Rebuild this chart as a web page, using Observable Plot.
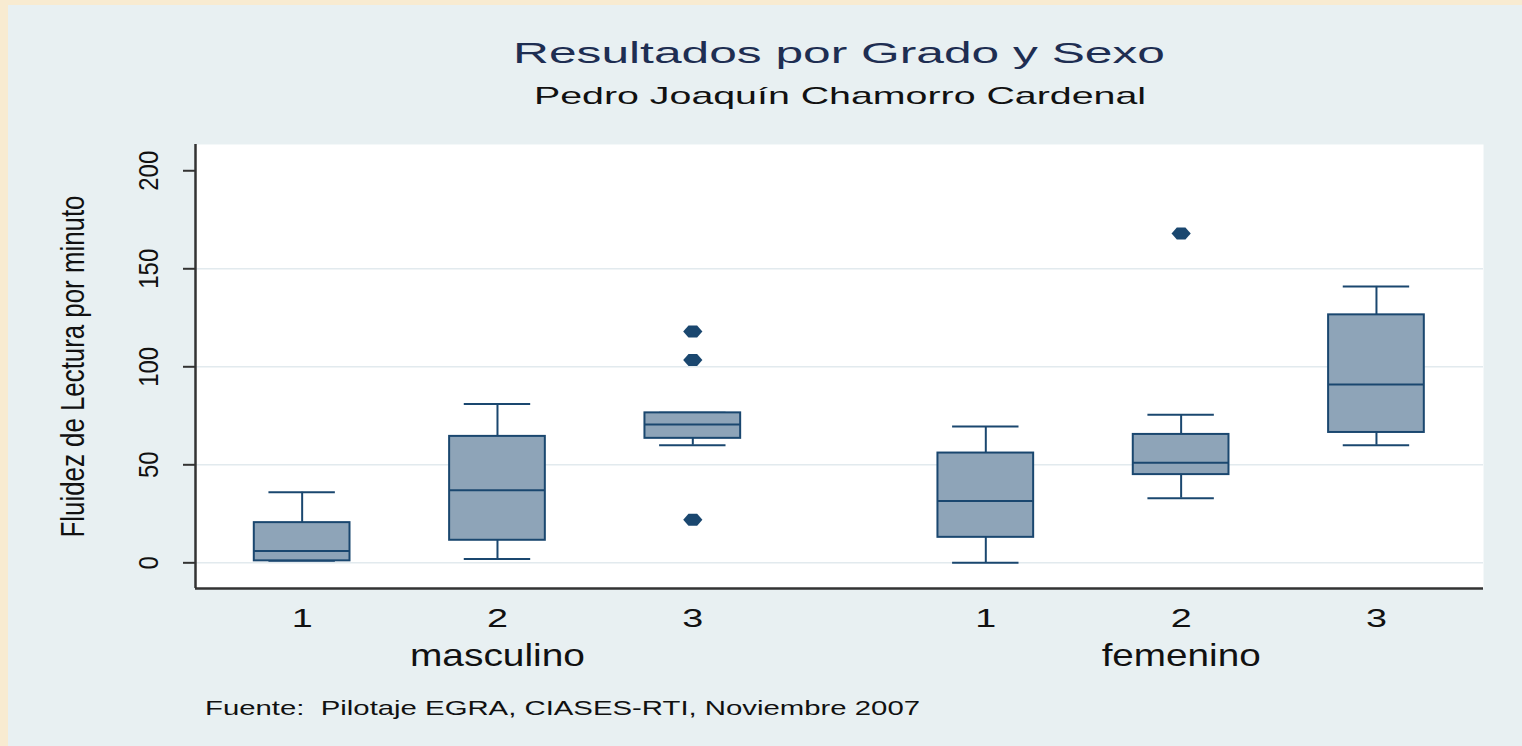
<!DOCTYPE html>
<html>
<head>
<meta charset="utf-8">
<script src="https://cdn.jsdelivr.net/npm/d3@7"></script>
<script src="https://cdn.jsdelivr.net/npm/@observablehq/plot@0.6"></script>
<style>
  html, body { margin: 0; padding: 0; }
  body { width: 1522px; height: 746px; background: #f8ebd1; position: relative; overflow: hidden;
         font-family: "Liberation Sans", Arial, sans-serif; }
  #panel { position: absolute; left: 8px; top: 5px; right: 0; bottom: 0; background: #e8f0f2; }
  .txt { position: absolute; white-space: nowrap; line-height: 1; }
  #title { left: 839px; top: 37.6px; font-size: 30px; color: #1e2e52; }
  #subtitle { left: 840px; top: 83.7px; font-size: 24px; color: #111; }
  #caption { left: 205px; top: 697.2px; font-size: 21px; color: #111; transform-origin: 0 50%; }
  #chart { position: absolute; left: 0; top: 130px; }
</style>
</head>
<body>
<div id="panel"></div>
<div id="title" class="txt">Resultados por Grado y Sexo</div>
<div id="subtitle" class="txt">Pedro Joaquín Chamorro Cardenal</div>
<div id="chart"></div>
<div id="caption" class="txt">Fuente:&nbsp; Pilotaje EGRA, CIASES-RTI, Noviembre 2007</div>
<script>
// ---- data ----
const sexo   = ["masculino", "masculino", "masculino", "femenino", "femenino", "femenino"];
const grado  = ["1", "2", "3", "1", "2", "3"];
const bigoteInf = [1, 2, 60, 0, 33, 60];
const q1        = [1, 11.5, 63.5, 13, 45, 66.5];
const mediana   = [6, 37, 70.5, 31.5, 51, 91];
const q3        = [20.5, 64.5, 76.5, 56, 65.5, 126.5];
const bigoteSup = [36, 81, 76.5, 69.5, 75.5, 141];

const atipSexo  = ["masculino", "masculino", "masculino", "femenino"];
const atipGrado = ["3", "3", "3", "2"];
const atipValor = [118, 103.5, 22, 168];

const sexos = ["masculino", "femenino"];
const yTicks = [0, 50, 100, 150, 200];
const yLabel = "Fluidez de Lectura por minuto";

// ---- layout helpers ----
const navy = "#1a476f";
const boxFill = "#8ea4b8";
const axisColor = "#333333";
const pos = (s, g) => sexos.indexOf(s) * 3.5 + (+g);   // grouped categorical position
const boxHalf = 0.245, capHalf = 0.17;
const xDomain = [0.454, 7.048];
const yDomain = [-13.1, 213.4];

const groups = sexo.map((s, i) => ({
  sexo: s, grado: grado[i], pos: pos(s, grado[i]),
  lo: bigoteInf[i], q1: q1[i], med: mediana[i], q3: q3[i], hi: bigoteSup[i]
}));
const outliers = atipSexo.map((s, i) => ({ sexo: s, grado: atipGrado[i], pos: pos(s, atipGrado[i]), valor: atipValor[i] }));
const groupLabels = sexos.map(s => ({ sexo: s, pos: pos(s, "2") }));

const ovalSymbol = {
  draw(context, size) {
    const r = Math.sqrt(size / Math.PI);
    const w = r * 1.6, h = r;
    context.moveTo(-w, 0);
    context.lineTo(-w * 0.45, -h);
    context.lineTo(w * 0.45, -h);
    context.lineTo(w, 0);
    context.lineTo(w * 0.45, h);
    context.lineTo(-w * 0.45, h);
    context.closePath();
  }
};

const chart = Plot.plot({
  width: 1522,
  height: 560,
  marginLeft: 195,
  marginRight: 39,
  marginTop: 14,
  marginBottom: 102,
  style: { background: "transparent", fontFamily: "'Liberation Sans', Arial, sans-serif", color: "#111", overflow: "visible" },
  x: { type: "linear", domain: xDomain, axis: null },
  y: { domain: yDomain, axis: null },
  marks: [
    Plot.frame({ fill: "white", stroke: null }),
    Plot.ruleY([0, 50, 100, 150], { stroke: "#e2eaee", strokeWidth: 1.5 }),
    // y axis ticks
    Plot.axisY({ ticks: yTicks, tickSize: 12, tickFormat: () => "", stroke: axisColor, strokeWidth: 2, label: null }),
    // text marks (order matters for the stretch step below)
    Plot.text(yTicks, { y: d => d, text: d => String(d), frameAnchor: "left", dx: -38, rotate: -90,
      lineAnchor: "bottom", textAnchor: "middle", fontSize: 28, fill: "#111" }),
    Plot.text([yLabel], { text: d => d, frameAnchor: "left", dx: -112, rotate: -90,
      lineAnchor: "bottom", textAnchor: "middle", fontSize: 34, fill: "#111" }),
    // whiskers
    Plot.ruleX(groups, { x: "pos", y1: "lo", y2: "q1", stroke: navy, strokeWidth: 2 }),
    Plot.ruleX(groups, { x: "pos", y1: "q3", y2: "hi", stroke: navy, strokeWidth: 2 }),
    Plot.ruleY(groups, { y: "lo", x1: d => d.pos - capHalf, x2: d => d.pos + capHalf, stroke: navy, strokeWidth: 2 }),
    Plot.ruleY(groups, { y: "hi", x1: d => d.pos - capHalf, x2: d => d.pos + capHalf, stroke: navy, strokeWidth: 2 }),
    // boxes
    Plot.rect(groups, { x1: d => d.pos - boxHalf, x2: d => d.pos + boxHalf, y1: "q1", y2: "q3",
      fill: boxFill, stroke: navy, strokeWidth: 2 }),
    Plot.ruleY(groups, { y: "med", x1: d => d.pos - boxHalf, x2: d => d.pos + boxHalf, stroke: navy, strokeWidth: 2 }),
    // outliers
    Plot.dot(outliers, { x: "pos", y: "valor", symbol: ovalSymbol, r: 6, fill: navy, stroke: null }),
    // axis lines
    Plot.ruleX([xDomain[0]], { stroke: axisColor, strokeWidth: 2.5 }),
    Plot.ruleY([yDomain[0]], { stroke: axisColor, strokeWidth: 2.5 }),
    // x labels
    Plot.text(groups, { x: "pos", text: "grado", frameAnchor: "bottom", dy: 38, lineAnchor: "bottom",
      fontSize: 26, fill: "#111" }),
    Plot.text(groupLabels, { x: "pos", text: "sexo", frameAnchor: "bottom", dy: 77, lineAnchor: "bottom",
      fontSize: 32, fill: "#111" })
  ]
});
document.getElementById("chart").appendChild(chart);

// stretch the text glyphs to the proportions of the reference rendering
const textGroups = d3.select(chart).selectAll('g[aria-label="text"]').nodes();
function stretch(group, targetFn) {
  if (!group) return;
  d3.select(group).selectAll("text").each(function () {
    const natural = this.getComputedTextLength();
    const target = targetFn(this.textContent, natural);
    this.setAttribute("textLength", target);
    this.setAttribute("lengthAdjust", "spacingAndGlyphs");
  });
}
stretch(textGroups[0], (t) => 13.3 * t.length);
stretch(textGroups[1], () => 342);
stretch(textGroups[2], (t, n) => n * 1.45);
const groupWidths = { masculino: 175, femenino: 159 };
stretch(textGroups[3], (t, n) => groupWidths[t] ?? n * 1.2);

function scaleHtml(id, target, centered) {
  const el = document.getElementById(id);
  const w = el.getBoundingClientRect().width;
  const k = target / w;
  el.style.transform = centered ? `translateX(-50%) scaleX(${k})` : `scaleX(${k})`;
}
scaleHtml("title", 652, true);
scaleHtml("subtitle", 612, true);
scaleHtml("caption", 715, false);
</script>
</body>
</html>
